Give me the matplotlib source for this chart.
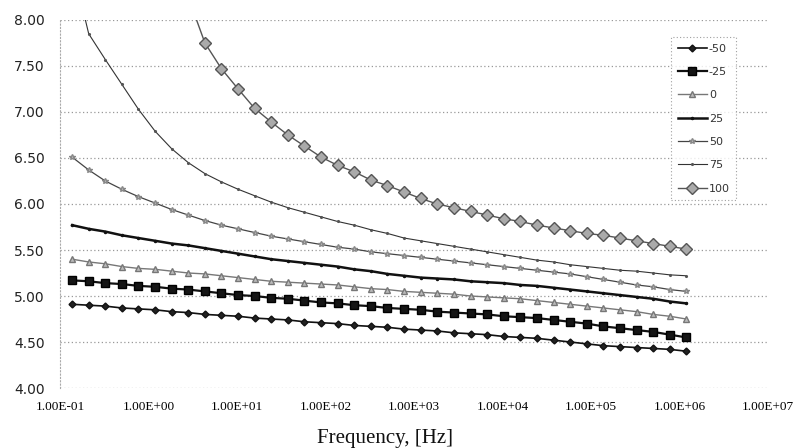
import matplotlib
matplotlib.use("Agg")
import matplotlib.pyplot as plt
import numpy as np

# ---- data ----
freq = [0.137, 0.211, 0.325, 0.500, 0.769, 1.19, 1.83, 2.81, 4.34, 6.67,
        10.3, 15.8, 24.4, 37.6, 57.8, 89.1, 137, 211, 326, 501,
        773, 1190, 1830, 2820, 4350, 6700, 10300, 15900, 24500, 37700,
        58100, 89500, 138000, 212000, 327000, 504000, 776000, 1190000]

s_m50 = [4.91, 4.90, 4.89, 4.87, 4.86, 4.85, 4.83, 4.82, 4.80, 4.79,
         4.78, 4.76, 4.75, 4.74, 4.72, 4.71, 4.70, 4.68, 4.67, 4.66,
         4.64, 4.63, 4.62, 4.60, 4.59, 4.58, 4.56, 4.55, 4.54, 4.52,
         4.50, 4.48, 4.46, 4.45, 4.44, 4.43, 4.42, 4.40]
s_m25 = [5.17, 5.16, 5.14, 5.13, 5.11, 5.10, 5.08, 5.07, 5.05, 5.03,
         5.01, 5.00, 4.98, 4.97, 4.95, 4.93, 4.92, 4.90, 4.89, 4.87,
         4.86, 4.85, 4.83, 4.82, 4.81, 4.80, 4.78, 4.77, 4.76, 4.74,
         4.72, 4.70, 4.67, 4.65, 4.63, 4.61, 4.58, 4.55]
s_0 = [5.40, 5.37, 5.35, 5.32, 5.30, 5.29, 5.27, 5.25, 5.24, 5.22,
       5.20, 5.18, 5.16, 5.15, 5.14, 5.13, 5.12, 5.10, 5.08, 5.07,
       5.05, 5.04, 5.03, 5.02, 5.00, 4.99, 4.98, 4.97, 4.95, 4.93,
       4.91, 4.89, 4.87, 4.85, 4.83, 4.80, 4.78, 4.75]
s_25 = [5.77, 5.73, 5.70, 5.66, 5.63, 5.60, 5.57, 5.55, 5.52, 5.49,
        5.46, 5.43, 5.40, 5.38, 5.36, 5.34, 5.32, 5.29, 5.27, 5.24,
        5.22, 5.20, 5.19, 5.18, 5.16, 5.15, 5.14, 5.12, 5.11, 5.09,
        5.07, 5.05, 5.03, 5.01, 4.99, 4.97, 4.94, 4.92]
s_50 = [6.51, 6.37, 6.25, 6.16, 6.08, 6.01, 5.94, 5.88, 5.82, 5.77,
        5.73, 5.69, 5.65, 5.62, 5.59, 5.56, 5.53, 5.51, 5.48, 5.46,
        5.44, 5.42, 5.40, 5.38, 5.36, 5.34, 5.32, 5.30, 5.28, 5.26,
        5.24, 5.21, 5.18, 5.15, 5.12, 5.10, 5.07, 5.05]
s_75 = [8.60, 7.85, 7.57, 7.30, 7.03, 6.79, 6.60, 6.45, 6.33, 6.24,
        6.16, 6.09, 6.02, 5.96, 5.91, 5.86, 5.81, 5.77, 5.72, 5.68,
        5.63, 5.60, 5.57, 5.54, 5.51, 5.48, 5.45, 5.42, 5.39, 5.37,
        5.34, 5.32, 5.30, 5.28, 5.27, 5.25, 5.23, 5.22]
s_100 = [np.nan, np.nan, np.nan, np.nan, np.nan, np.nan, np.nan, 8.25, 7.75, 7.47,
         7.25, 7.04, 6.89, 6.75, 6.63, 6.51, 6.42, 6.35, 6.26, 6.20,
         6.13, 6.06, 6.00, 5.96, 5.92, 5.88, 5.84, 5.81, 5.77, 5.74,
         5.71, 5.68, 5.66, 5.63, 5.60, 5.57, 5.54, 5.51]

labels = ["-50", "-25", "0", "25", "50", "75", "100"]
xticks = [1e-1, 1e0, 1e1, 1e2, 1e3, 1e4, 1e5, 1e6, 1e7]
xtick_labels = ["1.00E-01", "1.00E+00", "1.00E+01", "1.00E+02", "1.00E+03",
                "1.00E+04", "1.00E+05", "1.00E+06", "1.00E+07"]
yticks = [4.0, 4.5, 5.0, 5.5, 6.0, 6.5, 7.0, 7.5, 8.0]

# ---- figure ----
fig = plt.figure(figsize=(7.99, 4.48), dpi=100)
ax = fig.add_axes([0.0751, 0.1339, 0.9612 - 0.0751, 0.9554 - 0.1339])

series = [s_m50, s_m25, s_0, s_25, s_50, s_75, s_100]
styles = [
    dict(color="#111111", lw=1.2, marker="D", ms=3.5, mfc="#222222", mec="#111111"),
    dict(color="#111111", lw=1.6, marker="s", ms=6, mfc="#151515", mec="#000000"),
    dict(color="#777777", lw=1.0, marker="^", ms=4.5, mfc="#bbbbbb", mec="#777777"),
    dict(color="#111111", lw=1.8, marker="o", ms=1.5, mfc="#111111", mec="#111111"),
    dict(color="#444444", lw=0.9, marker="*", ms=4, mfc="#bbbbbb", mec="#888888"),
    dict(color="#333333", lw=0.8, marker=".", ms=2.5, mfc="#555555", mec="#555555"),
    dict(color="#555555", lw=1.0, marker="D", ms=6, mfc="#aaaaaa", mec="#555555"),
]
for ys, lab, st in zip(series, labels, styles):
    ax.plot(freq, ys, label=lab, **st)

ax.set_xscale("log")
ax.set_xlim(1e-1, 1e7)
ax.set_ylim(4.0, 8.0)
ax.set_xticks(xticks)
ax.set_xticklabels(xtick_labels, fontfamily="Liberation Serif", fontsize=9.5)
ax.minorticks_off()
ax.set_yticks(yticks)
ax.set_yticklabels([f"{v:.2f}" for v in yticks], fontfamily="DejaVu Sans",
                   fontsize=10, color="#222222")
ax.tick_params(axis="both", length=0)
ax.tick_params(axis="y", pad=11)
ax.tick_params(axis="x", pad=9)

ax.grid(axis="y", linestyle=(0, (1, 2)), color="#999999", linewidth=0.9)
ax.grid(axis="x", visible=False)
for side in ["top", "right", "bottom"]:
    ax.spines[side].set_visible(False)
ax.spines["left"].set_linestyle((0, (1, 2)))
ax.spines["left"].set_color("#aaaaaa")
ax.spines["left"].set_linewidth(0.8)
ax.set_axisbelow(True)

leg = ax.legend(loc="upper left", bbox_to_anchor=(0.863, 0.954), fontsize=8,
                frameon=True, fancybox=False, handlelength=2.6, labelspacing=1.2,
                borderpad=0.6, handletextpad=0.2, borderaxespad=0.0)
leg.get_frame().set_edgecolor("#888888")
leg.get_frame().set_linestyle((0, (1, 2)))
leg.get_frame().set_linewidth(0.8)
for t in leg.get_texts():
    t.set_color("#333333")

fig.text(385 / 799, 1 - 438 / 448, "Frequency, [Hz]", ha="center", va="center",
         fontfamily="Liberation Serif", fontsize=15, color="#111111")

fig.savefig("out.png", dpi=100)
